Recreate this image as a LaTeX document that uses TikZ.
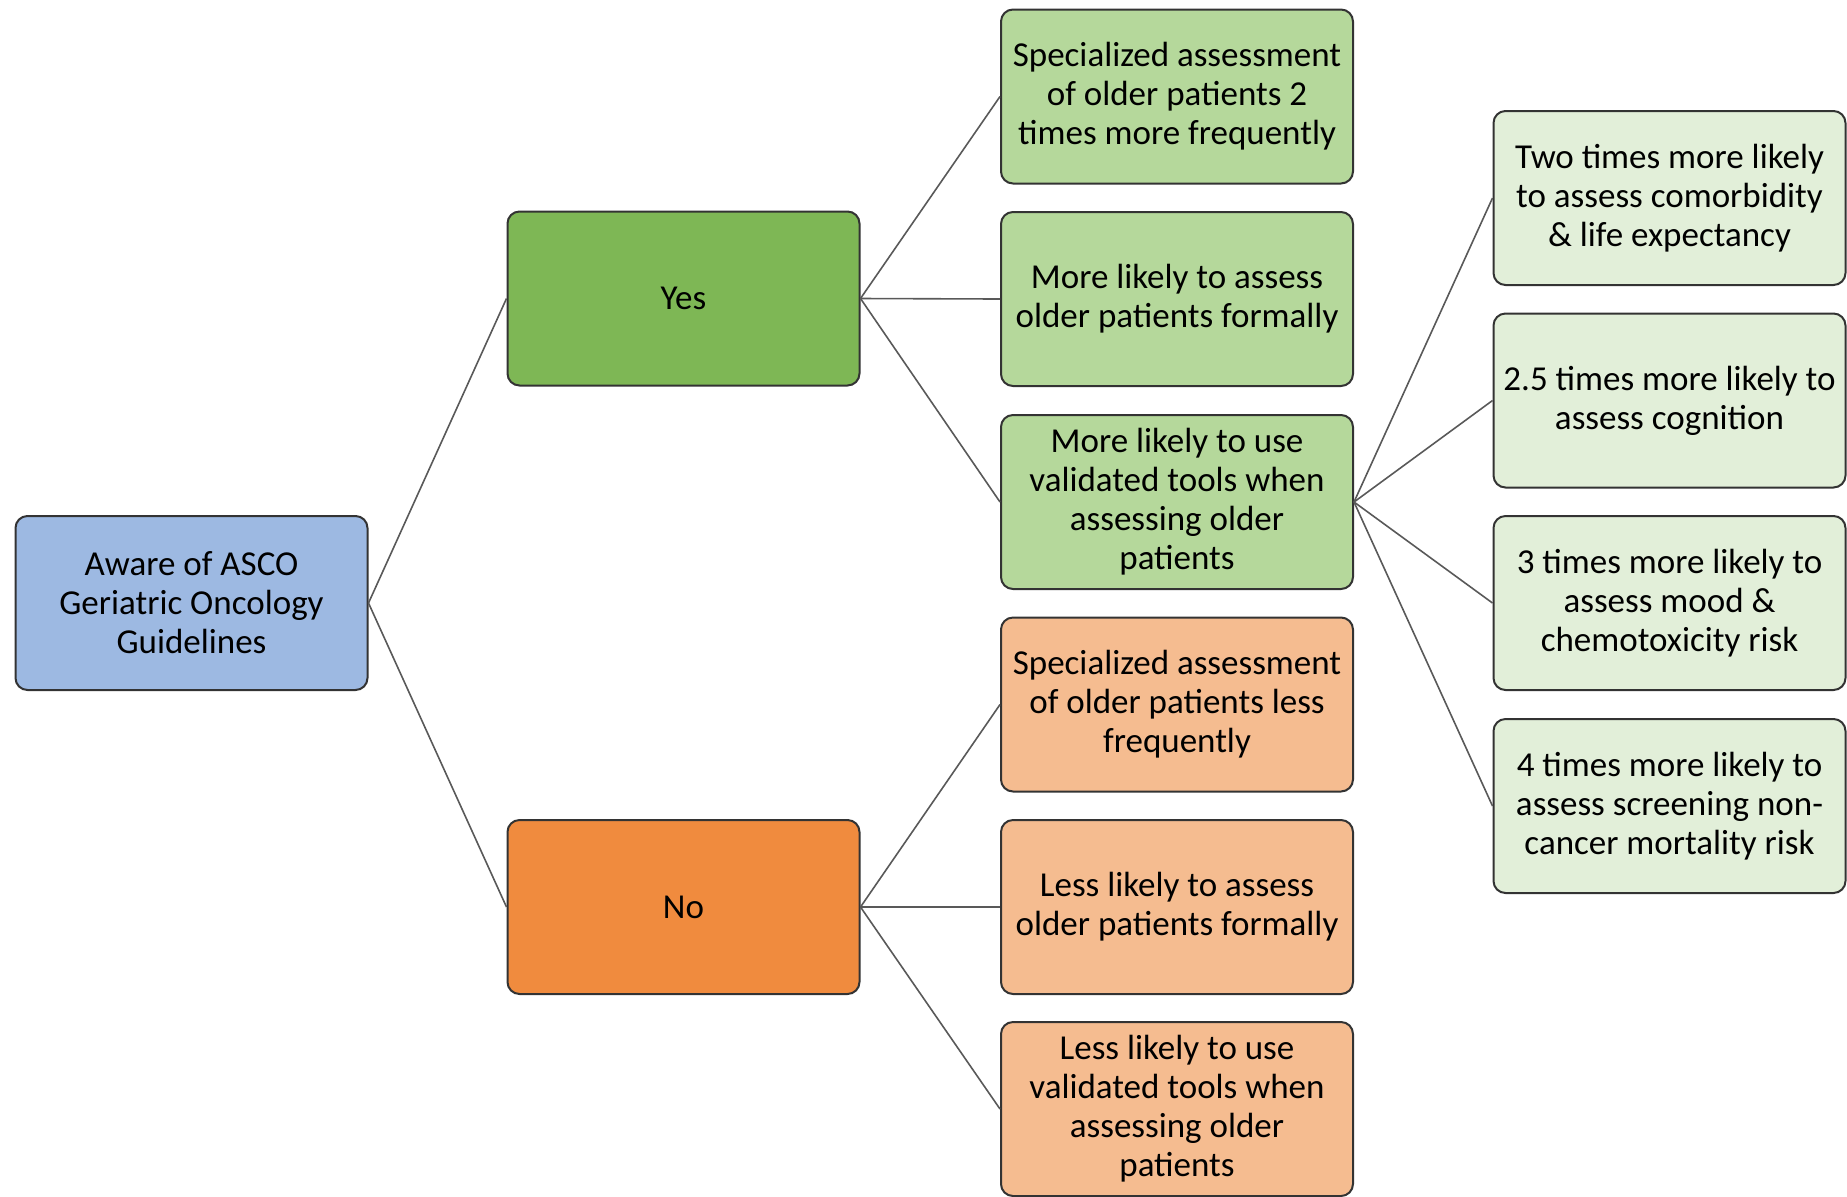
\documentclass[tikz,border=0pt]{standalone}
\usepackage{fontspec}
\setmainfont{Carlito}
\usepackage{tikz}
\usetikzlibrary{positioning}
\definecolor{rootblue}{RGB}{157,185,226}
\definecolor{yesgreen}{RGB}{126,183,85}
\definecolor{noorange}{RGB}{240,139,62}
\definecolor{lightgreen}{RGB}{181,216,155}
\definecolor{lightorange}{RGB}{245,188,144}
\definecolor{palegreen}{RGB}{226,239,217}
\tikzset{
  box/.style={draw=black!80, line width=1pt, rounded corners=6pt, align=center,
    minimum width=176pt, minimum height=87pt, inner sep=1pt,
    font=\fontsize{17.5pt}{19.5pt}\selectfont},
  link/.style={draw=black!65, line width=0.8pt}
}
\begin{document}
\begin{tikzpicture}[x=0.5pt,y=-0.5pt]
\useasboundingbox (0,0) rectangle (1847,1196);
% first and second level
\node[box, fill=rootblue] (aware) at (191.5,603) {Aware of ASCO\\Geriatric Oncology\\Guidelines};
\node[box, fill=yesgreen] (yes) at (683.5,298.5) {Yes};
\node[box, fill=noorange] (no) at (683.5,907) {No};
% outcomes
\node[box, fill=lightgreen] (spec2) at (1177,96.5) {Specialized assessment\\of older patients 2\\times more frequently};
\node[box, fill=lightgreen] (formal) at (1177,299) {More likely to assess\\older patients formally};
\node[box, fill=lightgreen] (tools) at (1177,502) {More likely to use\\validated tools when\\assessing older\\patients};
\node[box, fill=lightorange] (specless) at (1177,704.5) {Specialized assessment\\of older patients less\\frequently};
\node[box, fill=lightorange] (lessformal) at (1177,907) {Less likely to assess\\older patients formally};
\node[box, fill=lightorange] (lesstools) at (1177,1109) {Less likely to use\\validated tools when\\assessing older\\patients};
% tools in detail
\node[box, fill=palegreen] (comorb) at (1669.5,198) {Two times more likely\\to assess comorbidity\\\& life expectancy};
\node[box, fill=palegreen] (cogn) at (1669.5,400.5) {2.5 times more likely to\\assess cognition};
\node[box, fill=palegreen] (mood) at (1669.5,603) {3 times more likely to\\assess mood \&\\chemotoxicity risk};
\node[box, fill=palegreen] (mort) at (1669.5,806) {4 times more likely to\\assess screening non-\\cancer mortality risk};
% connectors
\draw[link] (aware.east) -- (yes.west);
\draw[link] (aware.east) -- (no.west);
\foreach \t in {spec2,formal,tools}
  \draw[link] (yes.east) -- (\t.west);
\foreach \t in {specless,lessformal,lesstools}
  \draw[link] (no.east) -- (\t.west);
\foreach \t in {comorb,cogn,mood,mort}
  \draw[link] (tools.east) -- (\t.west);
\end{tikzpicture}
\end{document}
